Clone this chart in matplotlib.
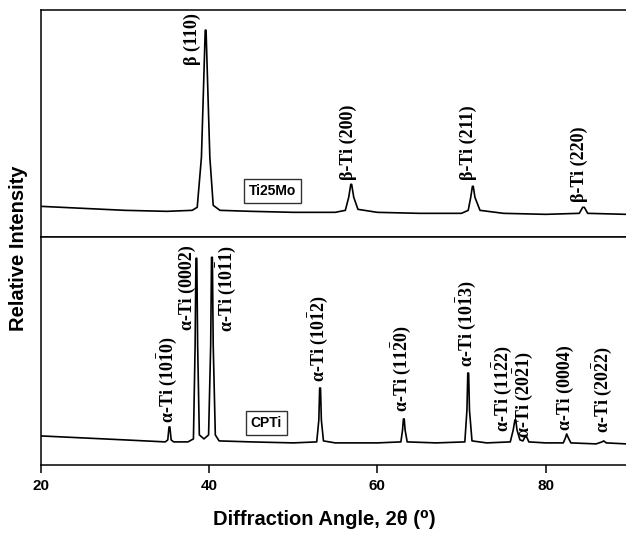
import matplotlib
matplotlib.use("Agg")
import matplotlib.pyplot as plt

plt.rcParams['mathtext.fontset'] = 'custom'
plt.rcParams['mathtext.rm'] = 'Liberation Serif:bold'
plt.rcParams['mathtext.bf'] = 'Liberation Serif:bold'
plt.rcParams['mathtext.it'] = 'Liberation Serif:bold'

# Ti25Mo pattern, points (2-theta, relative intensity)
ti25mo_angle = [20, 25, 30, 35, 38, 38.6, 39.1, 39.35, 39.55, 39.65, 39.85, 40.1, 40.5, 41.3,
                45, 50, 55, 56.2, 56.6, 56.85, 56.95, 57.2, 57.7, 60, 65, 70, 70.8, 71.1,
                71.3, 71.4, 71.6, 72.2, 75, 80, 84, 84.4, 84.6, 85, 89.6]
ti25mo_intensity = [31, 29, 27, 26, 27, 30, 80, 150, 207, 207, 150, 80, 32, 27,
                    26, 25, 25, 27, 40, 53, 53, 40, 28, 25, 24, 24, 27, 40,
                    51, 51, 40, 27, 24, 23, 24, 30, 30, 24, 23]

# CPTi pattern
cpti_angle = [20, 25, 30, 34.8, 35.1, 35.25, 35.35, 35.5, 35.8, 37.5, 38.15, 38.35, 38.45,
              38.55, 38.65, 38.85, 39.4, 39.95, 40.2, 40.3, 40.4, 40.5, 40.75, 41.2, 45,
              50, 52.8, 53.05, 53.15, 53.25, 53.35, 53.6, 55, 60, 62.8, 63.0, 63.1, 63.2,
              63.3, 63.55, 67, 70.4, 70.65, 70.75, 70.85, 70.95, 71.25, 73, 75.8, 76.15,
              76.35, 76.45, 76.6, 76.95, 77.3, 77.55, 77.75, 78, 80, 82.1, 82.35, 82.5,
              82.7, 83, 86, 86.7, 86.9, 87.2, 89.6]
cpti_intensity = [29, 27, 25, 23, 25, 38, 38, 25, 23, 23, 26, 120, 207,
                  207, 120, 30, 26, 30, 120, 208, 208, 120, 30, 24, 23,
                  22, 23, 45, 77, 77, 45, 24, 22, 22, 23, 35, 46, 46,
                  35, 23, 22, 23, 55, 92, 92, 55, 24, 22, 23, 35,
                  45, 45, 35, 25, 24, 28, 28, 23, 22, 22, 27, 31,
                  27, 22, 21, 23, 24, 22, 21]

# peak labels: 2-theta, height of label foot, text
ti25mo_label_x = [38.0, 56.5, 70.8, 84.0]
ti25mo_label_y = [172, 57, 57, 35]
ti25mo_labels = ['β (110)', 'β-Ti (200)', 'β-Ti (211)', 'β-Ti (220)']

cpti_label_x = [35.0, 37.4, 42.1, 53.0, 62.9, 70.6, 74.8, 77.4, 82.3, 86.7]
cpti_label_y = [42, 135, 133, 83, 53, 98, 33, 27, 35, 32]
cpti_labels = [r'α-Ti (10$\bar{1}$0)', 'α-Ti (0002)', r'α-Ti (10$\bar{1}$1)',
               r'α-Ti (10$\bar{1}$2)', r'α-Ti (11$\bar{2}$0)', r'α-Ti (10$\bar{1}$3)',
               r'α-Ti (11$\bar{2}$2)', r'α-Ti (20$\bar{2}$1)', 'α-Ti (0004)',
               r'α-Ti (20$\bar{2}$2)']

fig = plt.figure(figsize=(6.26, 5.34), dpi=100)
ax_top = fig.add_axes([0.065, 0.5555, 0.935, 0.4255])
ax_bot = fig.add_axes([0.065, 0.1295, 0.935, 0.426], sharex=ax_top)

label_font = dict(family='Liberation Serif', weight='bold', size=13)

for ax in (ax_top, ax_bot):
    for side in ('left', 'top', 'bottom'):
        ax.spines[side].set_linewidth(1.1)
    ax.spines['right'].set_visible(False)
    ax.set_yticks([])

ax_top.plot(ti25mo_angle, ti25mo_intensity, color='black', lw=1.2)
ax_top.set_ylim(0, 227)
ax_top.tick_params(axis='x', length=0, labelbottom=False)
for x, y, s in zip(ti25mo_label_x, ti25mo_label_y, ti25mo_labels):
    ax_top.text(x, y, s, rotation=90, ha='center', va='bottom', fontdict=label_font)
ax_top.text(47.5, 46, 'Ti25Mo', ha='center', va='center', family='Liberation Sans',
            weight='bold', size=10,
            bbox=dict(boxstyle='square,pad=0.35', fc='white', ec='#333333', lw=1))

ax_bot.plot(cpti_angle, cpti_intensity, color='black', lw=1.2)
ax_bot.set_ylim(0, 228)
for x, y, s in zip(cpti_label_x, cpti_label_y, cpti_labels):
    ax_bot.text(x, y, s, rotation=90, ha='center', va='bottom', fontdict=label_font)
ax_bot.text(46.8, 42, 'CPTi', ha='center', va='center', family='Liberation Sans',
            weight='bold', size=10,
            bbox=dict(boxstyle='square,pad=0.35', fc='white', ec='#333333', lw=1))

ax_bot.set_xlim(20, 89.55)
ax_bot.set_xticks([20, 40, 60, 80])
ax_bot.tick_params(axis='x', direction='out', length=6, width=1.1, pad=4)
for lbl in ax_bot.get_xticklabels():
    lbl.set_fontfamily('Liberation Sans')
    lbl.set_fontweight('bold')
    lbl.set_fontsize(11)

ax_bot.set_xlabel('Diffraction Angle, 2θ (⁰)', family=['Liberation Sans', 'DejaVu Sans'],
                  weight='bold', size=14.5)
ax_bot.xaxis.set_label_coords(0.484, -0.2)
fig.text(0.0296, 0.536, 'Relative Intensity', rotation=90, ha='center', va='center',
         family='Liberation Sans', weight='bold', size=14.5)

fig.savefig('out.png', dpi=100)
